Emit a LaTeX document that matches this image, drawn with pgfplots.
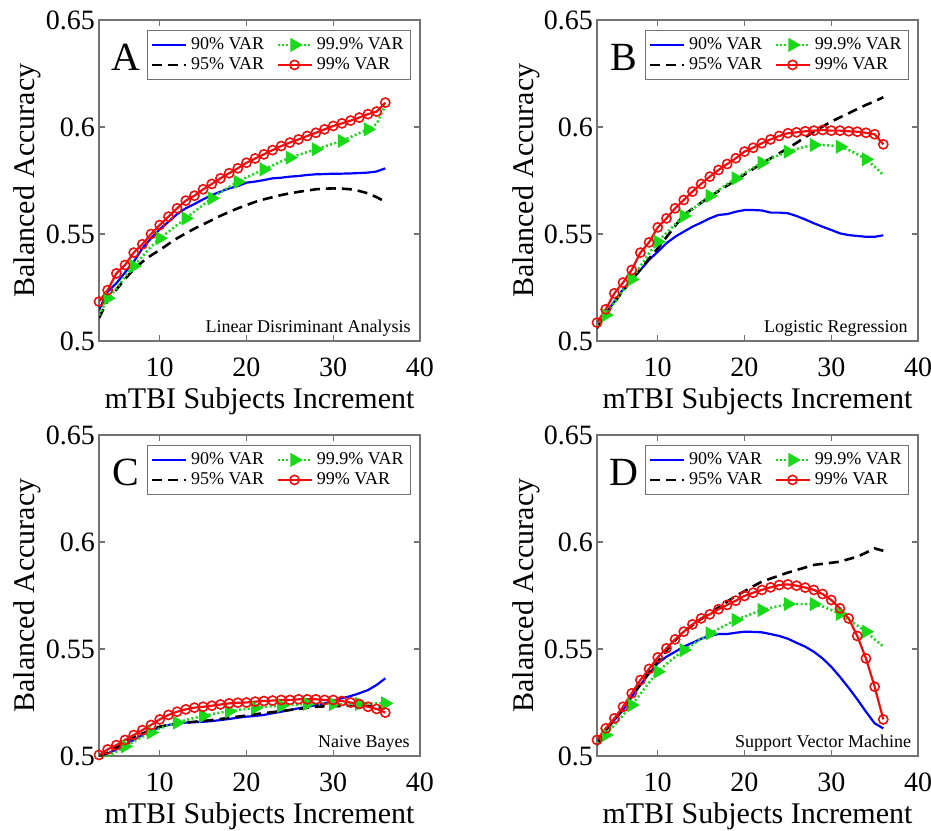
\documentclass[border=0pt]{standalone}
\usepackage{fontspec}
\setmainfont{Liberation Serif}
\setsansfont{Liberation Serif}
\usepackage{pgfplots}
\usepackage{pgfplotstable}
\pgfplotsset{compat=1.18}

\definecolor{mblue}{rgb}{0,0,1}
\definecolor{mgreen}{rgb}{0.1,0.85,0.1}
\definecolor{mred}{rgb}{0.95,0.05,0.05}

% columns: x, 90% VAR (b), 95% VAR (k), 99.9% VAR (g), 99% VAR (r)
\pgfplotstableread{
x b k g r
3 0.5145 0.5107 0.512 0.5184
4 0.523 0.519 0.520 0.5238
5 0.527 0.524 0.5245 0.5316
6 0.532 0.529 0.530 0.5355
7 0.537 0.5335 0.535 0.5413
8 0.5433 0.537 0.5395 0.5452
9 0.548 0.540 0.544 0.550
10 0.5522 0.5425 0.548 0.5542
11 0.5557 0.5453 0.551 0.5581
12 0.5593 0.548 0.5542 0.562
13 0.562 0.5503 0.5573 0.5656
14 0.564 0.5525 0.5605 0.5679
15 0.5662 0.5545 0.5636 0.5709
16 0.5682 0.5565 0.5667 0.5734
17 0.5698 0.5585 0.5695 0.576
18 0.5713 0.5603 0.572 0.5784
19 0.5724 0.562 0.5744 0.5807
20 0.574 0.5635 0.5764 0.5833
21 0.5745 0.565 0.5783 0.5853
22 0.5752 0.5662 0.5802 0.5872
23 0.576 0.5672 0.582 0.5892
24 0.5763 0.5682 0.5839 0.5911
25 0.5768 0.569 0.5857 0.5927
26 0.5771 0.5697 0.587 0.5942
27 0.5776 0.5703 0.5883 0.5958
28 0.5779 0.5709 0.5896 0.5973
29 0.578 0.5712 0.5909 0.5989
30 0.5782 0.5713 0.5922 0.6005
31 0.5782 0.5712 0.5935 0.6017
32 0.5783 0.5709 0.5953 0.603
33 0.5785 0.5701 0.5971 0.6044
34 0.5787 0.569 0.5989 0.606
35 0.5792 0.5672 0.6015 0.6072
36 0.5807 0.5651 0.610 0.6114
}\tA

\pgfplotstableread{
x b k g r
3 0.506 0.506 0.507 0.5086
4 0.5129 0.5125 0.5121 0.5148
5 0.5184 0.518 0.518 0.5223
6 0.5241 0.5235 0.5235 0.5273
7 0.5285 0.5285 0.5288 0.5332
8 0.5332 0.5335 0.535 0.5413
9 0.5379 0.5385 0.541 0.5461
10 0.5417 0.5433 0.5464 0.5531
11 0.5457 0.5485 0.5505 0.5573
12 0.5487 0.5537 0.5545 0.562
13 0.5511 0.5589 0.5584 0.5659
14 0.5534 0.5618 0.5616 0.5698
15 0.5553 0.5646 0.5647 0.5734
16 0.5573 0.5674 0.5678 0.5768
17 0.5589 0.57 0.5705 0.5799
18 0.5593 0.5726 0.5733 0.5827
19 0.5604 0.5752 0.576 0.5854
20 0.5612 0.5778 0.5785 0.5885
21 0.5612 0.5804 0.5809 0.5903
22 0.561 0.583 0.5833 0.5924
23 0.56 0.5853 0.5852 0.5942
24 0.56 0.5877 0.5869 0.5958
25 0.5597 0.59 0.5885 0.5971
26 0.5584 0.5926 0.5897 0.5975
27 0.5568 0.5952 0.5908 0.598
28 0.555 0.5978 0.5916 0.5983
29 0.5534 0.6002 0.5916 0.5986
30 0.5519 0.6025 0.5913 0.5983
31 0.5503 0.6045 0.5908 0.5983
32 0.5495 0.6064 0.5893 0.598
33 0.5491 0.6084 0.5873 0.5978
34 0.5487 0.6103 0.5849 0.5973
35 0.5487 0.612 0.5815 0.5966
36 0.5494 0.6139 0.5776 0.5919
}\tB

\pgfplotstableread{
x b k g r
3 0.5 0.5 0.499 0.5005
4 0.5012 0.5015 0.4998 0.5031
5 0.503 0.504 0.502 0.5051
6 0.5051 0.5065 0.5045 0.5075
7 0.5075 0.509 0.5067 0.5098
8 0.5098 0.5105 0.509 0.5121
9 0.5118 0.5122 0.511 0.5145
10 0.5134 0.5137 0.5129 0.5171
11 0.5145 0.5145 0.5143 0.5192
12 0.5153 0.5151 0.5156 0.5207
13 0.5156 0.5156 0.5168 0.5218
14 0.5158 0.516 0.5178 0.5226
15 0.516 0.5164 0.5187 0.523
16 0.5163 0.5168 0.5196 0.5235
17 0.5168 0.5173 0.5203 0.5241
18 0.5173 0.5179 0.5209 0.5246
19 0.5179 0.5184 0.5215 0.5249
20 0.5184 0.5189 0.522 0.525
21 0.5187 0.5195 0.5225 0.5254
22 0.5192 0.52 0.523 0.5257
23 0.52 0.5205 0.5233 0.5259
24 0.5207 0.521 0.5235 0.5262
25 0.5215 0.5215 0.5238 0.5262
26 0.5223 0.522 0.5241 0.5265
27 0.523 0.5225 0.5244 0.5265
28 0.5238 0.523 0.5246 0.5265
29 0.5246 0.5232 0.5245 0.5262
30 0.5258 0.5233 0.5243 0.5262
31 0.527 0.5234 0.5241 0.5257
32 0.528 0.5234 0.5242 0.525
33 0.5293 0.5234 0.5244 0.5243
34 0.5308 0.5234 0.5246 0.523
35 0.5332 0.523 0.5246 0.522
36 0.5363 0.5223 0.5246 0.5203
}\tC

\pgfplotstableread{
x b k g r
3 0.505 0.506 0.506 0.5075
4 0.5121 0.512 0.5098 0.5129
5 0.5168 0.517 0.5145 0.5176
6 0.5215 0.522 0.519 0.523
7 0.5277 0.528 0.5238 0.5293
8 0.5332 0.5335 0.529 0.5355
9 0.5386 0.539 0.5343 0.5407
10 0.5433 0.5441 0.5394 0.5461
11 0.5464 0.5492 0.543 0.5503
12 0.5487 0.554 0.5463 0.5545
13 0.5511 0.558 0.5495 0.5581
14 0.5529 0.5611 0.5521 0.5615
15 0.5548 0.564 0.5547 0.5643
16 0.5561 0.5667 0.5573 0.5662
17 0.557 0.5694 0.5594 0.5686
18 0.557 0.5721 0.5615 0.5706
19 0.5576 0.5748 0.5636 0.5726
20 0.5581 0.577 0.5651 0.5748
21 0.558 0.5793 0.5667 0.5763
22 0.5578 0.5815 0.5682 0.5776
23 0.557 0.5829 0.5692 0.5788
24 0.5561 0.5843 0.5701 0.5799
25 0.5548 0.5857 0.571 0.5802
26 0.5529 0.5869 0.571 0.5796
27 0.5511 0.5881 0.571 0.5787
28 0.5487 0.5893 0.571 0.5776
29 0.5456 0.5898 0.5699 0.5757
30 0.5417 0.5903 0.5683 0.5729
31 0.537 0.5908 0.5664 0.569
32 0.5319 0.592 0.5637 0.5643
33 0.5265 0.5931 0.561 0.5561
34 0.5207 0.595 0.5581 0.5456
35 0.5153 0.597 0.5546 0.5324
36 0.5129 0.5959 0.5511 0.5171
}\tD

\pgfplotsset{
  panel/.style={
    width=160.5pt, height=160.5pt, scale only axis,
    xmin=3, xmax=40, ymin=0.5, ymax=0.65,
    xtick={10,20,30,40}, ytick={0.5,0.55,0.6,0.65},
    tick align=inside, major tick length=3pt,
    axis line style={black!55, line width=0.6pt},
    tick style={black!55, line width=0.6pt},
    ticklabel style={font=\rmfamily\fontsize{14}{16}\selectfont},
    /pgf/number format/assume math mode=true,
    xticklabel style={yshift=-5pt},
    yticklabel style={xshift=1.5pt},
    xlabel={mTBI Subjects Increment},
    ylabel={Balanced Accuracy},
    xlabel style={at={([yshift=-33.5pt]axis description cs:0.5,0)}, anchor=base,
      font=\rmfamily\fontsize{15}{17}\selectfont},
    ylabel style={at={([xshift=-32pt]axis description cs:0,0.5)}, anchor=base,
      font=\rmfamily\fontsize{15}{17}\selectfont},
    legend columns=2, transpose legend,
    legend style={at={(0.972,0.969)}, anchor=north east, draw=black!55,
      line width=0.5pt, font=\rmfamily\fontsize{9}{10}\selectfont, inner sep=1.5pt,
      row sep=-1.5pt, /tikz/every even column/.append style={column sep=4pt}},
    legend cell align=left,
    legend image code/.code={\draw[mark repeat=2,mark phase=2]
      plot coordinates {(0pt,0pt) (8.5pt,0pt) (17pt,0pt)};},
  },
  sb/.style={mblue, line width=1.1pt},
  sk/.style={black, line width=1.3pt, dash pattern=on 5pt off 3pt},
  sg/.style={mgreen, line width=1.3pt, dash pattern=on 1pt off 1.2pt,
    mark=triangle*, mark repeat=3, mark phase=2, mark size=2.8pt,
    mark options={solid, rotate=-90, fill=mgreen}},
  sr/.style={mred, line width=1.1pt, mark=o, mark size=2.3pt,
    mark options={solid, line width=0.8pt}},
}

\newcommand{\panelplots}[1]{%
  \addplot[sb] table[x=x,y=b] {#1};
  \addplot[sk] table[x=x,y=k] {#1};
  \addplot[sg] table[x=x,y=g] {#1};
  \addplot[sr] table[x=x,y=r] {#1};
  \legend{90\% VAR, 95\% VAR, 99.9\% VAR, 99\% VAR}
}

\begin{document}
\begin{tikzpicture}
\path[use as bounding box] (0pt,0pt) rectangle (465.5pt,-415pt);

\begin{axis}[panel, at={(49.5pt,-170.5pt)}, anchor=south west]
\panelplots{\tA}
\node[font=\rmfamily\fontsize{20}{22}\selectfont, anchor=base] at (rel axis cs:0.084,0.844) {A};
\node[font=\rmfamily\fontsize{9}{10}\selectfont, anchor=base east, inner sep=0pt] at (rel axis cs:0.972,0.026) {Linear Disriminant Analysis};
\end{axis}

\begin{axis}[panel, at={(298.5pt,-170.5pt)}, anchor=south west]
\panelplots{\tB}
\node[font=\rmfamily\fontsize{20}{22}\selectfont, anchor=base] at (rel axis cs:0.084,0.844) {B};
\node[font=\rmfamily\fontsize{9}{10}\selectfont, anchor=base east, inner sep=0pt] at (rel axis cs:0.969,0.026) {Logistic Regression};
\end{axis}

\begin{axis}[panel, at={(49.5pt,-378pt)}, anchor=south west]
\panelplots{\tC}
\node[font=\rmfamily\fontsize{20}{22}\selectfont, anchor=base] at (rel axis cs:0.084,0.844) {C};
\node[font=\rmfamily\fontsize{9}{10}\selectfont, anchor=base east, inner sep=0pt] at (rel axis cs:0.969,0.026) {Naive Bayes};
\end{axis}

\begin{axis}[panel, at={(298.5pt,-378pt)}, anchor=south west]
\panelplots{\tD}
\node[font=\rmfamily\fontsize{20}{22}\selectfont, anchor=base] at (rel axis cs:0.084,0.844) {D};
\node[font=\rmfamily\fontsize{9}{10}\selectfont, anchor=base east, inner sep=0pt] at (rel axis cs:0.98,0.026) {Support Vector Machine};
\end{axis}
\end{tikzpicture}
\end{document}
